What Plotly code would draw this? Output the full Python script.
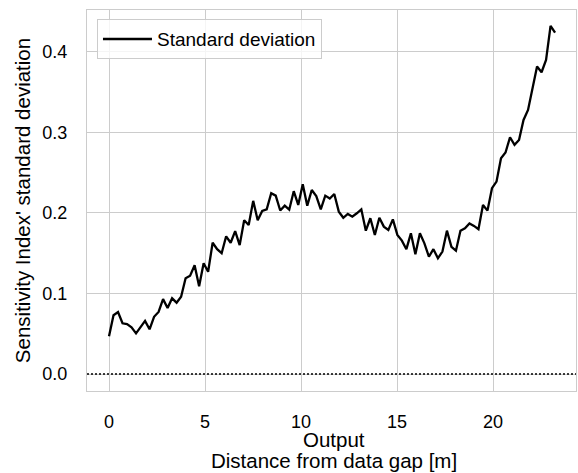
import numpy as np
import plotly.graph_objects as go

# Distance grid of the outputs [m]
distance = np.linspace(0.0, 23.23, 100)

# Standard deviation of the sensitivity index at each output
std_dev = [
    0.047, 0.073, 0.077, 0.063, 0.062, 0.058, 0.0505, 0.059, 0.066, 0.0555,
    0.071, 0.077, 0.093, 0.082, 0.094, 0.0886, 0.096, 0.119, 0.122, 0.135,
    0.109, 0.1375, 0.127, 0.163, 0.155, 0.150, 0.171, 0.163, 0.1775, 0.160,
    0.191, 0.185, 0.215, 0.191, 0.2025, 0.2045, 0.2245, 0.2215, 0.203, 0.209,
    0.204, 0.227, 0.210, 0.2355, 0.209, 0.2285, 0.221, 0.2045, 0.2215, 0.218,
    0.2235, 0.2016, 0.194, 0.1988, 0.1954, 0.1996, 0.2045, 0.178, 0.1934, 0.1727,
    0.194, 0.183, 0.1789, 0.192, 0.1727, 0.1656, 0.155, 0.1747, 0.1487, 0.1747,
    0.1623, 0.1457, 0.155, 0.1437, 0.152, 0.178, 0.158, 0.1532, 0.178, 0.181,
    0.187, 0.1839, 0.1797, 0.2099, 0.2029, 0.2307, 0.2389, 0.268, 0.275, 0.294,
    0.2845, 0.2907, 0.3155, 0.328, 0.3528, 0.3818, 0.3747, 0.390, 0.4323, 0.424,
]

x_ticks = [0, 5, 10, 15, 20]
y_ticks = [0.0, 0.1, 0.2, 0.3, 0.4]
y_tick_text = ["0.0", "0.1", "0.2", "0.3", "0.4"]

x_title_lines = ["Output", "Distance from data gap [m]"]
y_title = "Sensitivity Index' standard deviation"

FONT = "Liberation Sans, Arial, sans-serif"
GRID = "#cccccc"
TICK_SIZE = 18
TITLE_SIZE = 20.5

fig = go.Figure()
fig.add_trace(go.Scatter(
    x=distance, y=std_dev, mode="lines", name="Standard deviation",
    line=dict(color="black", width=2.3),
))

# Reference line at zero
fig.add_shape(type="line", xref="paper", x0=0, x1=1, yref="y", y0=0, y1=0,
              line=dict(color="black", width=1.4, dash="2px,2px"), layer="above")

# Two-line x-axis title, placed line by line for tight spacing
for text, ypos in zip(x_title_lines, [-0.1260, -0.1825]):
    fig.add_annotation(text=text, xref="paper", yref="paper", x=0.5, y=ypos,
                       xanchor="center", yanchor="middle", xshift=2, showarrow=False,
                       font=dict(family=FONT, size=TITLE_SIZE, color="black"))

fig.update_layout(
    width=578, height=473,
    margin=dict(l=87, r=2, t=10, b=82),
    paper_bgcolor="white", plot_bgcolor="white",
    font=dict(family=FONT, size=TICK_SIZE, color="black"),
    showlegend=True,
    legend=dict(
        x=0.0204, y=0.976, xanchor="left", yanchor="top",
        bgcolor="rgba(255,255,255,0.8)", bordercolor=GRID, borderwidth=1,
        itemwidth=49,
        font=dict(family=FONT, size=19, color="black"),
    ),
    xaxis=dict(
        range=[-1.146, 24.32], tickvals=x_ticks,
        showgrid=True, gridcolor=GRID, gridwidth=1.25,
        zeroline=False, showline=True, linecolor=GRID, linewidth=1.25, mirror=True,
        ticks="", ticklabelstandoff=14,
        tickfont=dict(size=TICK_SIZE),
    ),
    yaxis=dict(
        range=[-0.0211, 0.452], tickvals=y_ticks, ticktext=y_tick_text,
        showgrid=True, gridcolor=GRID, gridwidth=1.25,
        zeroline=False, showline=True, linecolor=GRID, linewidth=1.25, mirror=True,
        ticks="", ticklabelstandoff=15,
        tickfont=dict(size=TICK_SIZE),
        title=dict(text=y_title, font=dict(size=TITLE_SIZE), standoff=6),
    ),
)

fig.write_html("out.html")
